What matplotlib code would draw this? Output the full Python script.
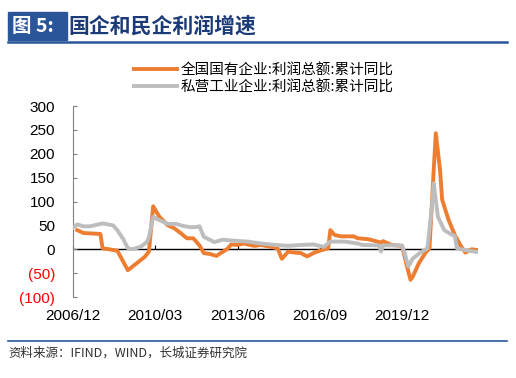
import matplotlib
matplotlib.use("Agg")
import matplotlib.pyplot as plt
from matplotlib.patches import Rectangle
from matplotlib.lines import Line2D

plt.rcParams['font.family'] = ['Liberation Sans', 'Noto Sans CJK SC']

# 全国国有企业:利润总额:累计同比
soe_dates = ["2007-02", "2007-05", "2007-09", "2008-01", "2008-02", "2008-05", "2008-09",
             "2009-02", "2009-06", "2009-10", "2009-12", "2010-02", "2010-04", "2010-05",
             "2010-09", "2010-12", "2011-03", "2011-06", "2011-09", "2011-12", "2012-02",
             "2012-05", "2012-08", "2012-10", "2013-01", "2013-03", "2013-06", "2013-09",
             "2014-02", "2014-05", "2014-10", "2015-01", "2015-03", "2015-06", "2015-09",
             "2015-12", "2016-03", "2016-06", "2016-09", "2017-01", "2017-02", "2017-04",
             "2017-07", "2018-01", "2018-03", "2018-08", "2019-02", "2019-03", "2019-07",
             "2019-12", "2020-02", "2020-04", "2020-05", "2020-08", "2020-11", "2021-01",
             "2021-03", "2021-04", "2021-06", "2021-07", "2021-10", "2022-01", "2022-04",
             "2022-06", "2022-09", "2022-12"]
soe_vals = [40, 34, 33, 32, 2, 0, -3,
            -44, -30, -16, -5, 90, 75, 68,
            50, 44, 34, 23, 23, 8, -8,
            -10, -14, -8, 0, 10, 9, 12,
            7, 9, 5, 2, -20, -5, -7,
            -8, -15, -8, -3, 2, 40, 30,
            27, 27, 23, 21, 14, 17, 9,
            7, -30, -64, -58, -29, -8, 2,
            166, 243, 166, 104, 62, 30, 6,
            -7, 0, -2]

# 私营工业企业:利润总额:累计同比
pri_dates = ["2006-12", "2007-02", "2007-05", "2007-08", "2008-02", "2008-07", "2008-09",
             "2008-12", "2009-02", "2009-04", "2009-08", "2009-11", "2009-12", "2010-02",
             "2010-04", "2010-09", "2011-01", "2011-04", "2011-08", "2011-11", "2011-12",
             "2012-02", "2012-07", "2012-11", "2013-04", "2013-11", "2014-05", "2014-12",
             "2015-06", "2015-12", "2016-06", "2016-11", "2017-02", "2017-09", "2018-03",
             "2018-05", "2019-01", "2019-02", "2019-03", "2019-12", "2020-01", "2020-03",
             "2020-05", "2020-08", "2020-12", "2021-02", "2021-03", "2021-04", "2021-05",
             "2021-08", "2021-11", "2022-01", "2022-02", "2022-06", "2022-12"]
pri_vals = [45, 52, 48, 48, 54, 50, 40,
            20, 2, 0, 5, 15, 25, 68,
            63, 53, 53, 49, 46, 47, 48,
            26, 15, 20, 18, 16, 12, 9,
            7, 9, 10, 5, 16, 16, 12,
            9, 8, -5, 8, 8, -5, -36,
            -20, -9, 2, 82, 138, 103, 68,
            40, 32, 28, 2, -2, -6]

tick_labels = ["2006/12", "2010/03", "2013/06", "2016/09", "2019/12"]
y_ticks = [-100, -50, 0, 50, 100, 150, 200, 250, 300]

def month_idx(s):
    y, m = s.replace("/", "-").split("-")
    return (int(y) - 2006) * 12 + int(m) - 12

soe_x = [month_idx(d) for d in soe_dates]
pri_x = [month_idx(d) for d in pri_dates]
tick_x = [month_idx(t) for t in tick_labels]

fig = plt.figure(figsize=(5.16, 3.78), dpi=100)
ax = fig.add_axes([73 / 516, 1 - 297 / 378, 405 / 516, 191 / 378])

orange = "#ED7D31"
grey = "#BDBDBD"
ax.plot(pri_x, pri_vals, color=grey, lw=2.8, solid_joinstyle="round", zorder=3)
ax.plot(soe_x, soe_vals, color=orange, lw=2.8, solid_joinstyle="round", zorder=2)
ax.axhline(0, color="black", lw=1, zorder=1)

ax.set_xlim(0, 192)
ax.set_ylim(-100, 300)
ax.set_yticks(y_ticks)
ax.set_yticklabels([f"({-v})" if v < 0 else str(v) for v in y_ticks], fontsize=11)
for lab, v in zip(ax.get_yticklabels(), y_ticks):
    if v < 0:
        lab.set_color("red")
ax.tick_params(axis="y", direction="in", length=3, color="#808080", pad=13)
ax.set_xticks(tick_x)
ax.set_xticklabels(tick_labels, fontsize=11)
ax.tick_params(axis="x", length=0, pad=9)

for s in ["top", "right", "bottom"]:
    ax.spines[s].set_visible(False)
ax.spines["left"].set_color("#808080")

# small ticks on the zero line
sec = ax.secondary_xaxis(0.25)
sec.set_xticks(tick_x)
sec.set_xticklabels([])
sec.tick_params(direction="in", length=3, color="black")
for s in sec.spines.values():
    s.set_visible(False)

# legend
handles = [Line2D([], [], color=orange, lw=2.8), Line2D([], [], color=grey, lw=2.8)]
fig.legend(handles, ["全国国有企业:利润总额:累计同比", "私营工业企业:利润总额:累计同比"],
           loc="upper left", bbox_to_anchor=(127 / 516, 1 - 56 / 378), frameon=False,
           prop={"family": ["Noto Sans CJK SC"], "size": 10.5}, handlelength=2.9,
           handletextpad=0.3, labelspacing=0.2, borderpad=0)

# title block
blue = "#2A5699"
fig.patches.append(Rectangle((8 / 516, 1 - 40 / 378), 59 / 516, 28 / 378,
                             transform=fig.transFigure, color=blue, zorder=0))
fig.text(12 / 516, 1 - 26 / 378, "图 5:", color="white", fontsize=14, fontweight="bold",
         va="center", family=["Noto Sans CJK SC"])
fig.text(68 / 516, 1 - 26 / 378, "国企和民企利润增速", color="#1B3A78", fontsize=15,
         fontweight="bold", va="center", family=["Noto Sans CJK SC"])
fig.add_artist(Line2D([8 / 516, 507 / 516], [1 - 41.5 / 378] * 2, color=blue, lw=1.8,
                      transform=fig.transFigure))

# source
fig.add_artist(Line2D([8 / 516, 507 / 516], [1 - 341 / 378] * 2, color=blue, lw=1.2,
                      transform=fig.transFigure))
fig.text(8 / 516, 1 - 353 / 378, "资料来源：IFIND，WIND，长城证券研究院", color="#333333",
         fontsize=9, style="italic", va="center", family=["Noto Sans CJK SC", "DejaVu Sans"])

fig.savefig("out.png", dpi=100)
